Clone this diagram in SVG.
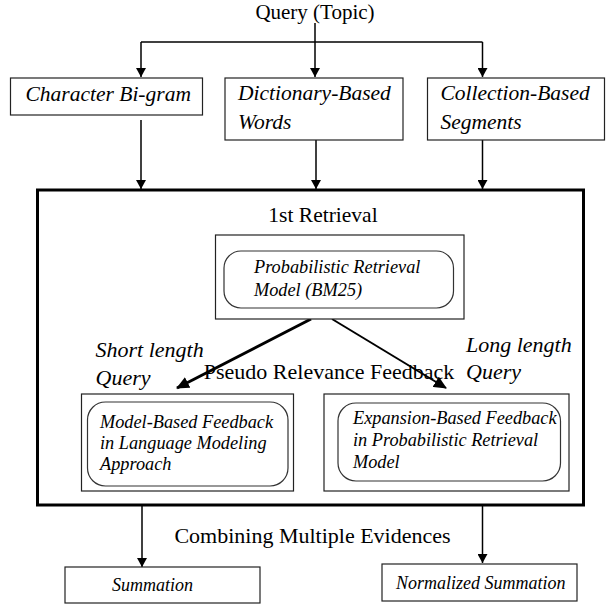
<svg xmlns="http://www.w3.org/2000/svg" width="606" height="607" viewBox="0 0 606 607">
<defs>
<marker id="ah" markerWidth="9" markerHeight="10" refX="9" refY="5" orient="auto" markerUnits="userSpaceOnUse">
<path d="M0,0 L9,5 L0,10 z" fill="#000"/>
</marker>
<marker id="ahb" markerWidth="13" markerHeight="12" refX="12" refY="6" orient="auto" markerUnits="userSpaceOnUse">
<path d="M0,0 L13,6 L0,12 z" fill="#000"/>
</marker>
<style>
.box{fill:#fff;stroke:#222;stroke-width:1.2}
.rbox{fill:none;stroke:#333;stroke-width:1.2}
.ln{fill:none;stroke:#000;stroke-width:1.5}
.t{font-family:"Liberation Serif","Times New Roman",serif;fill:#000}
.it{font-family:"Liberation Serif","Times New Roman",serif;font-style:italic;fill:#000}
</style>
</defs>
<g id="connectors">
<line class="ln" x1="315" y1="23" x2="315" y2="77" marker-end="url(#ah)"/>
<polyline class="ln" points="141,42 482.5,42"/>
<line class="ln" x1="141" y1="42" x2="141" y2="77" marker-end="url(#ah)"/>
<line class="ln" x1="482.5" y1="42" x2="482.5" y2="77" marker-end="url(#ah)"/>
<line class="ln" x1="141" y1="120" x2="141" y2="189" marker-end="url(#ah)"/>
<line class="ln" x1="316" y1="140" x2="316" y2="189" marker-end="url(#ah)"/>
<line class="ln" x1="482.5" y1="140" x2="482.5" y2="189" marker-end="url(#ah)"/>
<line x1="311" y1="319" x2="177" y2="388" stroke="#000" stroke-width="3" marker-end="url(#ahb)"/>
<line x1="332" y1="319" x2="446" y2="388" stroke="#000" stroke-width="2" marker-end="url(#ahb)"/>
<line class="ln" x1="142" y1="505" x2="142" y2="567" marker-end="url(#ah)"/>
<line class="ln" x1="482.5" y1="505" x2="482.5" y2="563" marker-end="url(#ah)"/>
</g>
<g id="query">
<text class="t" x="315" y="19" font-size="21" text-anchor="middle">Query (Topic)</text>
</g>
<g id="bigram">
<rect class="box" x="10.5" y="78" width="192" height="37"/>
<text class="it" x="25.5" y="101" font-size="21.5">Character Bi-gram</text>
</g>
<g id="dictionary">
<rect class="box" x="225" y="78" width="178" height="62"/>
<text class="it" x="238" y="100" font-size="21.5">Dictionary-Based</text>
<text class="it" x="238" y="129" font-size="21.5">Words</text>
</g>
<g id="collection">
<rect class="box" x="427.5" y="78" width="177" height="62"/>
<text class="it" x="440.5" y="100" font-size="21.5">Collection-Based</text>
<text class="it" x="440.5" y="129" font-size="21.5">Segments</text>
</g>
<g id="retrieval-frame">
<rect x="37.5" y="190" width="546" height="315" fill="none" stroke="#000" stroke-width="3"/>
<text class="t" x="323" y="222" font-size="21.5" text-anchor="middle">1st Retrieval</text>
<text class="t" x="329" y="379" font-size="22" text-anchor="middle">Pseudo Relevance Feedback</text>
<text class="it" x="95.5" y="357" font-size="22">Short length</text>
<text class="it" x="95.5" y="385" font-size="22">Query</text>
<text class="it" x="466" y="352" font-size="22">Long length</text>
<text class="it" x="466" y="379" font-size="22">Query</text>
</g>
<g id="bm25">
<rect class="box" x="215.5" y="235" width="248.5" height="84"/>
<rect class="rbox" x="224" y="251" width="229.5" height="57" rx="17"/>
<text class="it" x="254" y="273" font-size="18.3">Probabilistic Retrieval</text>
<text class="it" x="254" y="296" font-size="18.3">Model (BM25)</text>
</g>
<g id="model-based">
<rect class="box" x="81.5" y="394" width="212" height="97"/>
<rect class="rbox" x="87.5" y="402" width="200.5" height="84" rx="18"/>
<text class="it" x="100" y="428" font-size="18.3">Model-Based Feedback</text>
<text class="it" x="100" y="449" font-size="18.3">in Language Modeling</text>
<text class="it" x="100" y="470" font-size="18.3">Approach</text>
</g>
<g id="expansion-based">
<rect class="box" x="324" y="394" width="245" height="97"/>
<rect class="rbox" x="338" y="403" width="222.5" height="78" rx="18"/>
<text class="it" x="353" y="424" font-size="18.3">Expansion-Based Feedback</text>
<text class="it" x="353" y="446" font-size="18.3">in Probabilistic Retrieval</text>
<text class="it" x="353" y="468" font-size="18.3">Model</text>
</g>
<g id="combining">
<text class="t" x="312.5" y="543" font-size="22" text-anchor="middle">Combining Multiple Evidences</text>
</g>
<g id="summation">
<rect class="box" x="65" y="567" width="195" height="36"/>
<text class="it" x="112" y="591" font-size="18">Summation</text>
</g>
<g id="normalized">
<rect class="box" x="382" y="564" width="195" height="37"/>
<text class="it" x="396" y="589" font-size="18">Normalized Summation</text>
</g>
</svg>
